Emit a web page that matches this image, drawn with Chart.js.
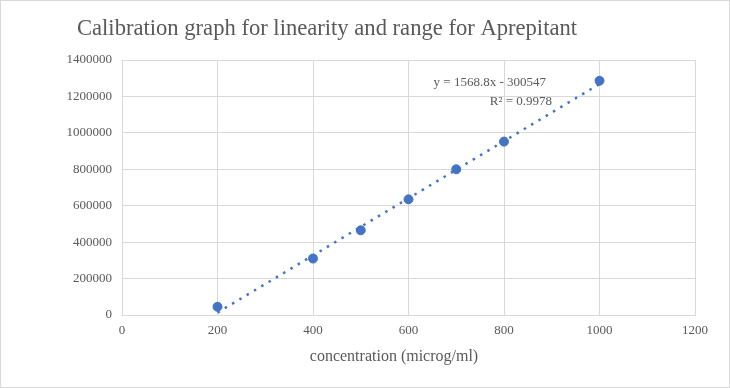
<!DOCTYPE html>
<html>
<head>
<meta charset="utf-8">
<script src="https://cdn.jsdelivr.net/npm/chart.js@4/dist/chart.umd.min.js"></script>
<style>
  html, body { margin: 0; padding: 0; background: #fff; }
  #wrap { width: 728px; height: 386px; border: 1px solid #d9d9d9; }
</style>
</head>
<body>
<div id="wrap"><canvas id="graph" width="728" height="386"></canvas></div>
<script>
// concentration (microg/ml) and peak area
const concentrations = [200, 400, 500, 600, 700, 800, 1000];
const peakAreas = [45000, 310000, 465000, 635000, 800000, 952000, 1286000];

// trendline shown on the chart
const slope = 1568.8;
const intercept = -300547;
const rSquared = 0.9978;

const xTicks = [0, 200, 400, 600, 800, 1000, 1200];
const yTicks = [0, 200000, 400000, 600000, 800000, 1000000, 1200000, 1400000];

const chartTitle = 'Calibration graph for linearity and range for Aprepitant';
const xTitle = 'concentration (microg/ml)';

const trendX = [concentrations[0], concentrations[concentrations.length - 1]];
const trendPoints = trendX.map(x => ({ x: x, y: slope * x + intercept }));

const blue = '#4472c4';
const grey = '#595959';
const serif = "'Liberation Serif', 'Times New Roman', serif";

// Excel puts the titles a little left of centre, so draw them by hand
const labels = {
    id: 'labels',
    afterDraw(chart) {
        const ctx = chart.ctx;
        ctx.save();
        ctx.fillStyle = grey;
        ctx.textBaseline = 'middle';

        ctx.textAlign = 'center';
        ctx.font = '22.6px ' + serif;
        ctx.fillText(chartTitle, 326, 28);
        ctx.font = '16px ' + serif;
        ctx.fillText(xTitle, 393, 356);

        ctx.textAlign = 'right';
        ctx.font = '13px ' + serif;
        ctx.fillText('y = ' + slope + 'x - ' + Math.abs(intercept), 545, 82);
        ctx.fillText('R\u00b2 = ' + rSquared, 551, 101);
        ctx.restore();
    }
};

const graph = document.getElementById('graph').getContext('2d');

let myChart = new Chart(graph, {
    type: 'scatter',
    data: {
        datasets: [
            {
                label: 'Trendline',
                data: trendPoints,
                showLine: true,
                borderColor: blue,
                borderWidth: 2.5,
                borderDash: [2.5, 6],
                pointRadius: 0,
                fill: false
            },
            {
                label: 'Peak area',
                data: concentrations.map((x, i) => ({ x: x, y: peakAreas[i] })),
                backgroundColor: blue,
                borderColor: blue,
                pointRadius: 4.5,
                pointHoverRadius: 4.5
            }
        ]
    },
    options: {
        responsive: false,
        animation: false,
        layout: {
            padding: { top: 59, right: 34, bottom: 49, left: 6 }
        },
        plugins: {
            legend: { display: false },
            tooltip: { enabled: false },
            title: { display: false }
        },
        scales: {
            x: {
                type: 'linear',
                min: 0,
                max: 1200,
                afterBuildTicks: axis => { axis.ticks = xTicks.map(v => ({ value: v })); },
                afterFit: axis => { axis.height = 23; },
                grid: { color: '#d9d9d9', drawTicks: false },
                border: { color: '#d9d9d9' },
                ticks: {
                    color: grey,
                    padding: 8,
                    maxRotation: 0,
                    font: { family: serif, size: 13 },
                    callback: v => String(v)
                }
            },
            y: {
                type: 'linear',
                min: 0,
                max: 1400000,
                afterBuildTicks: axis => { axis.ticks = yTicks.map(v => ({ value: v })); },
                afterFit: axis => { axis.width = 115; },
                grid: { color: '#d9d9d9', drawTicks: false },
                border: { color: '#d9d9d9' },
                ticks: {
                    color: grey,
                    padding: 10,
                    font: { family: serif, size: 13 },
                    callback: v => String(v)
                }
            }
        }
    },
    plugins: [labels]
});
</script>
</body>
</html>
